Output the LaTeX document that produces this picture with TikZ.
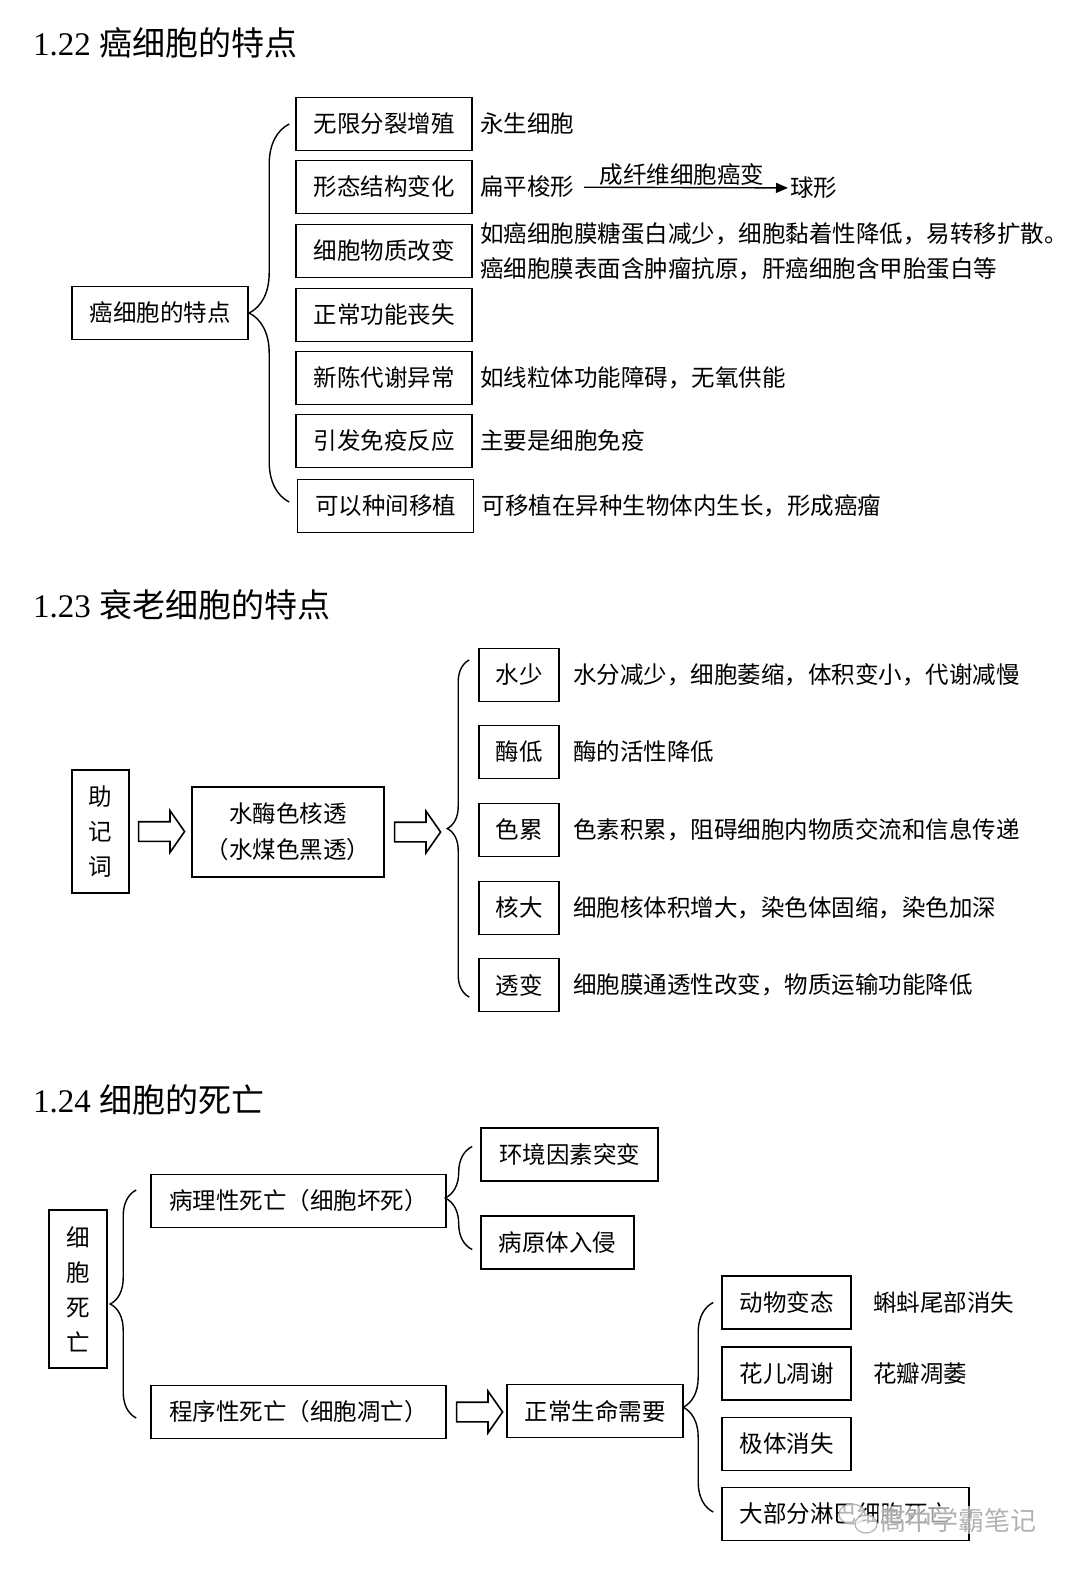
\documentclass[tikz,border=0pt]{standalone}
\usepackage{fontspec}
\setmainfont{Liberation Serif}
\newfontfamily\cjk{Noto Sans CJK SC}
\usetikzlibrary{shapes.arrows,arrows.meta,positioning,calc,decorations.pathreplacing}

\begin{document}
\begin{tikzpicture}[
    x=1pt, y=-1pt,
    every node/.style={font=\cjk\fontsize{23.5}{35}\selectfont, inner sep=2pt},
    box/.style={draw, line width=1.6pt, minimum height=53pt, align=center, inner sep=0pt},
    desc/.style={anchor=west, align=left},
    ttl/.style={anchor=west, font=\fontsize{33}{36}\selectfont},
    brc/.style={decorate, line width=1.4pt},
    hollow/.style={single arrow, draw, line width=1.6pt, minimum height=46pt, inner sep=9pt,
                   single arrow head extend=11pt, single arrow tip angle=110}
]
    \useasboundingbox (0,0) rectangle (1080,1575);

    % 1.22
    \node[ttl] (t1) at (31,43) {1.22 {\cjk 癌细胞的特点}};
    \node[box, minimum width=176pt] (cancer) at (160,313) {癌细胞的特点};
    \node[box, minimum width=176pt] (c1) at (384,124) {无限分裂增殖};
    \node[box, minimum width=176pt] (c2) at (384,187) {形态结构变化};
    \node[box, minimum width=176pt] (c3) at (384,251) {细胞物质改变};
    \node[box, minimum width=176pt] (c4) at (384,315) {正常功能丧失};
    \node[box, minimum width=176pt] (c5) at (384,378) {新陈代谢异常};
    \node[box, minimum width=176pt] (c6) at (384,441) {引发免疫反应};
    \node[box, minimum width=176pt] (c7) at (385.5,506) {可以种间移植};

    \node[desc, right=5pt of c1] (d1) {永生细胞};
    \node[desc, right=5pt of c2] (flat) {扁平梭形};
    \node[desc] (ball) at (788,188) {球形};
    \draw[-{Triangle[length=12pt,width=10pt]}, line width=1.4pt, shorten <=8pt] (flat) -- node[above=-1pt] (why) {成纤维细胞癌变} (ball);
    \node[desc, right=5pt of c3] (d3) {如癌细胞膜糖蛋白减少，细胞黏着性降低，易转移扩散。\\癌细胞膜表面含肿瘤抗原，肝癌细胞含甲胎蛋白等};
    \node[desc, right=5pt of c5] (d5) {如线粒体功能障碍，无氧供能};
    \node[desc, right=5pt of c6] (d6) {主要是细胞免疫};
    \node[desc, right=5pt of c7] (d7) {可移植在异种生物体内生长，形成癌瘤};

    \draw[brc, decoration={brace, amplitude=40pt}] ($(c1.west |- c7.west)+(-6,-4)$) -- ($(c1.west)+(-6,0)$);

    % 1.23
    \node[ttl] (t2) at (31,605) {1.23 {\cjk 衰老细胞的特点}};
    \node[box, minimum width=57pt, minimum height=123pt] (mnem) at (100.5,831.5) {助\\记\\词};
    \node[hollow, right=8pt of mnem] (a1) {};
    \node[box, minimum width=192pt, minimum height=90pt, font=\cjk\fontsize{23.5}{36}\selectfont] (key) at (288,832) {水酶色核透\\（水煤色黑透）};
    \node[hollow, right=9pt of key] (a2) {};

    \node[box, minimum width=80pt] (s1) at (519,675) {水少};
    \node[box, minimum width=80pt] (s2) at (519,752) {酶低};
    \node[box, minimum width=80pt] (s3) at (519,830) {色累};
    \node[box, minimum width=80pt] (s4) at (519,908) {核大};
    \node[box, minimum width=80pt] (s5) at (519,985) {透变};

    \node[desc, right=11pt of s1] (e1) {水分减少，细胞萎缩，体积变小，代谢减慢};
    \node[desc, right=11pt of s2] (e2) {酶的活性降低};
    \node[desc, right=11pt of s3] (e3) {色素积累，阻碍细胞内物质交流和信息传递};
    \node[desc, right=11pt of s4] (e4) {细胞核体积增大，染色体固缩，染色加深};
    \node[desc, right=11pt of s5] (e5) {细胞膜通透性改变，物质运输功能降低};

    \draw[brc, decoration={brace, amplitude=22pt}] ($(s5.west)+(-9,12)$) -- ($(s1.west)+(-9,-15)$);

    % 1.24
    \node[ttl] (t3) at (31,1100) {1.24 {\cjk 细胞的死亡}};
    \node[box, minimum width=58pt, minimum height=158pt] (death) at (78,1289) {细\\胞\\死\\亡};
    \node[box, minimum width=295pt] (patho) at (298.5,1201) {病理性死亡（细胞坏死）};
    \node[box, minimum width=295pt] (prog) at (298.5,1412) {程序性死亡（细胞凋亡）};
    \node[box, minimum width=177pt] (env) at (569.5,1154.5) {环境因素突变};
    \node[box, minimum width=153pt] (germ) at (557.5,1242.5) {病原体入侵};
    \node[hollow, right=9pt of prog] (a3) {};
    \node[box, minimum width=176pt] (need) at (595,1411) {正常生命需要};

    \node[box, minimum width=129pt] (m1) at (786.5,1302.5) {动物变态};
    \node[box, minimum width=129pt] (m2) at (786.5,1373.5) {花儿凋谢};
    \node[box, minimum width=129pt] (m3) at (786.5,1444) {极体消失};
    \node[box, minimum width=247pt] (m4) at (845.5,1514) {大部分淋巴细胞死亡};
    \node[desc, right=19pt of m1] (f1) {蝌蚪尾部消失};
    \node[desc, right=19pt of m2] (f2) {花瓣凋萎};

    \draw[brc, decoration={brace, amplitude=26pt}] ($(prog.west)+(-14,6)$) -- ($(patho.west)+(-14,-11)$);
    \draw[brc, decoration={brace, amplitude=27pt}] ($(germ.west)+(-8,7)$) -- ($(env.west)+(-8,-8)$);
    \draw[brc, decoration={brace, amplitude=30pt}] ($(m1.west |- m4.west)+(-8,-2)$) -- ($(m1.west)+(-8,0)$);

    % watermark
    \draw[gray!60, line width=1.2pt, fill=white, fill opacity=0.7] (852,1514) ellipse (13 and 10);
    \draw[gray!60, line width=1.2pt, fill=white, fill opacity=0.7] (866,1524) ellipse (11 and 9);
    \node[anchor=west, text=gray!60, fill=white, fill opacity=0.6, text opacity=1,
          font=\cjk\fontsize{26}{30}\selectfont] (mark) at (878,1520) {高中学霸笔记};
\end{tikzpicture}
\end{document}
